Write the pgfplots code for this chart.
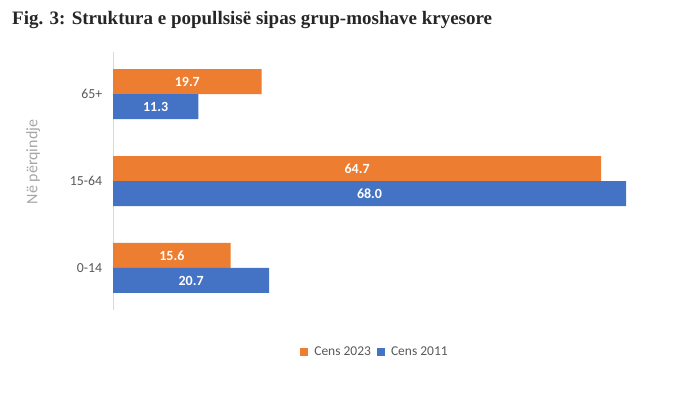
\documentclass[border=0pt]{standalone}
\usepackage{pgfplots}
\pgfplotsset{compat=1.18}
\usepackage{pgfplotstable}
\usepackage{fontspec}
\setmainfont{Carlito}
\newfontfamily\titlefont{Liberation Serif}
\definecolor{corange}{HTML}{ED7D31}
\definecolor{cblue}{HTML}{4472C4}
\definecolor{ctick}{HTML}{595959}
\definecolor{clabel}{HTML}{A6A6A6}
\definecolor{caxis}{HTML}{D9D9D9}
\pgfplotstableread{
y v2023 v2011
0 15.6 20.7
1 64.7 68.0
2 19.7 11.3
}\data
\begin{document}
\begin{tikzpicture}
\useasboundingbox (0,0) rectangle (682pt,397pt);
\node[anchor=base west, inner sep=0pt, text=black!85] at (12pt,372pt) {\titlefont\fontsize{19pt}{21pt}\selectfont\bfseries Fig. 3: Struktura e popullsisë sipas grup-moshave kryesore};
\begin{axis}[
  at={(113pt,87pt)}, anchor=south west,
  scale only axis, width=547pt, height=258pt,
  xmin=0, xmax=72.5,
  ymin=-0.483, ymax=2.483,
  axis x line=none,
  axis y line*=left,
  y axis line style={draw=caxis, -},
  ytick={0,1,2},
  yticklabels={0-14,15-64,65+},
  ytick style={draw=none},
  yticklabel style={text=ctick, font=\fontsize{13.8pt}{15pt}\selectfont, xshift=-3pt},
  ylabel={Në përqindje},
  ylabel style={text=clabel, font=\fontsize{16pt}{18pt}\selectfont, at={(axis description cs:-0.146,0.574)}, anchor=center},
  clip=false,
  xbar, bar width=25pt,
  /pgf/number format/.cd, fixed, fixed zerofill, precision=1, assume math mode=true,
  /pgfplots/.cd,
  legend style={at={(0.479,-0.163)}, anchor=center, draw=none, legend columns=2,
    font=\fontsize{13.5pt}{15pt}\selectfont, text=ctick,
    /tikz/every odd column/.append style={column sep=4pt},
    /tikz/every even column/.append style={column sep=4pt}},
  legend image code/.code={\fill[#1] (0pt,-4pt) rectangle (8pt,4pt);},
  nodes near coords style={text=white, font=\fontsize{14pt}{15pt}\selectfont\bfseries, anchor=center},
]
\addplot[fill=corange, draw=none, bar shift=12.5pt] table[x=v2023, y=y]{\data};
\addlegendentry{Cens 2023}
\addplot[fill=cblue, draw=none, bar shift=-12.5pt] table[x=v2011, y=y]{\data};
\addlegendentry{Cens 2011}
\addplot[draw=none, fill=none, bar shift=12.5pt, forget plot, nodes near coords, point meta=explicit] table[x expr=\thisrow{v2023}/2, y=y, meta=v2023]{\data};
\addplot[draw=none, fill=none, bar shift=-12.5pt, forget plot, nodes near coords, point meta=explicit] table[x expr=\thisrow{v2011}/2, y=y, meta=v2011]{\data};
\end{axis}
\end{tikzpicture}
\end{document}
